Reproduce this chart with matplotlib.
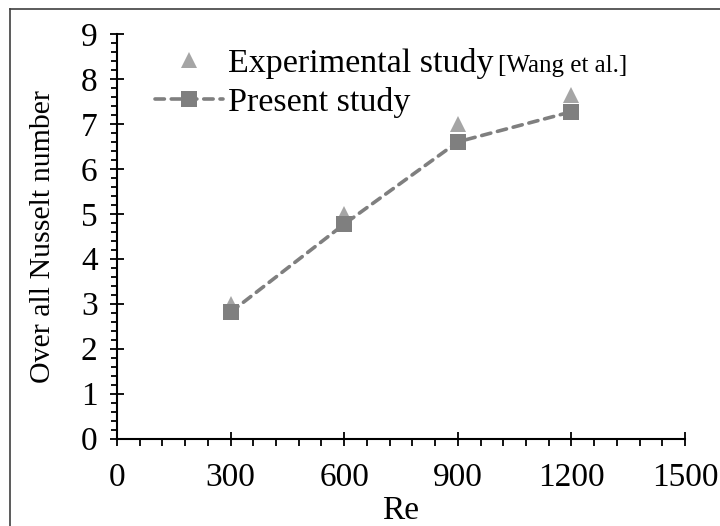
import numpy as np
import matplotlib
matplotlib.use("Agg")
import matplotlib.pyplot as plt
from matplotlib.lines import Line2D
from matplotlib.ticker import MultipleLocator

plt.rcParams['font.family'] = ['Liberation Serif', 'DejaVu Serif']

# data
re_values = [300, 600, 900, 1200]
nu_experimental = [3.0, 5.0, 7.0, 7.65]
nu_present = [2.81, 4.77, 6.6, 7.27]

label_exp = "Experimental study"
label_ref = "[Wang et al.]"
label_present = "Present study"

W, H = 720, 526
fig = plt.figure(figsize=(W / 100, H / 100), dpi=100)
ax = fig.add_axes([117 / W, (H - 438.5) / H, 568 / W, 404.5 / H])

exp_color = '#A5A5A5'
pres_color = '#7F7F7F'

ax.plot(re_values, nu_experimental, linestyle='none', marker='^', markersize=12,
        color=exp_color, markeredgewidth=0, zorder=3, label=label_exp)
ax.plot(re_values, nu_present, linestyle=(0, (2.6, 1.9)), linewidth=2.6,
        dash_capstyle='round', color=pres_color, marker='s', markersize=12,
        markeredgewidth=0, zorder=4, label=label_present)

ax.set_xlim(0, 1500)
ax.set_ylim(0, 9)
ax.xaxis.set_major_locator(MultipleLocator(300))
ax.xaxis.set_minor_locator(MultipleLocator(60))
ax.yaxis.set_major_locator(MultipleLocator(1))
ax.yaxis.set_minor_locator(MultipleLocator(0.2))

for side in ['top', 'right']:
    ax.spines[side].set_visible(False)
for side in ['left', 'bottom']:
    ax.spines[side].set_linewidth(1.5)

ax.tick_params(axis='x', which='major', direction='inout', length=10, width=1.3,
               labelsize=24, pad=12)
ax.tick_params(axis='x', which='minor', direction='out', length=5, width=1.3)
ax.tick_params(axis='y', which='major', direction='inout', length=10, width=1.3,
               labelsize=24, pad=9)
ax.tick_params(axis='y', which='minor', direction='out', length=4, width=1.3)

ax.set_xlabel("Re", fontsize=24, labelpad=2)
ax.set_ylabel("Over all Nusselt number", fontsize=21.5, labelpad=18)

leg = ax.legend(loc='upper left', bbox_to_anchor=(155 / W, 1 - 48 / H),
                bbox_transform=fig.transFigure, frameon=False, fontsize=24.5,
                handlelength=2.0, handletextpad=0.15, labelspacing=0.24,
                borderpad=0, borderaxespad=0)

# smaller citation text right after the first legend entry
fig.canvas.draw()
renderer = fig.canvas.get_renderer()
t0 = leg.get_texts()[0]
bb = t0.get_window_extent(renderer)
_, _, descent = renderer.get_text_width_height_descent(
    t0.get_text(), t0.get_fontproperties(), ismath=False)
fig.text((bb.x1 + 4) / W, (bb.y0 + descent) / H, label_ref, fontsize=18,
         va='baseline', ha='left')

# outer frame (only top and left edges fall inside the image)
fig.add_artist(Line2D([10 / W, 1.0], [1 - 9 / H, 1 - 9 / H], color='#404040',
                      linewidth=1.2, transform=fig.transFigure))
fig.add_artist(Line2D([10 / W, 10 / W], [0, 1 - 9 / H], color='#404040',
                      linewidth=1.2, transform=fig.transFigure))

fig.savefig("out.png", dpi=100)
